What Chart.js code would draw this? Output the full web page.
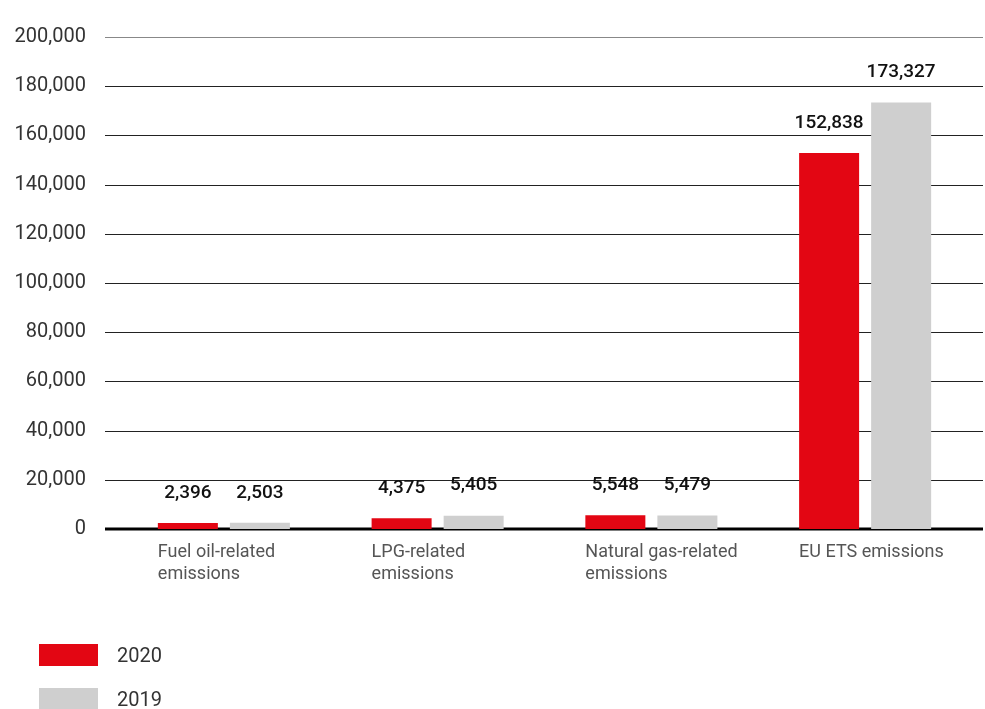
<!DOCTYPE html>
<html>
<head>
<meta charset="utf-8">
<script src="https://cdn.jsdelivr.net/npm/chart.js@4"></script>
<style>
body{margin:0;background:#fff;font-family:Roboto,sans-serif}
#wrap{position:relative;width:985px;height:709px;overflow:hidden}
#legend{position:absolute;left:39px;top:644px}
.item{display:flex;align-items:center;height:22px;margin-bottom:22px;font-size:20px;color:#333}
.box{width:59px;height:22px;margin-right:19px}
</style>
</head>
<body>
<div id="wrap">
<canvas id="c" width="985" height="709"></canvas>
<div id="legend"></div>
</div>
<script>
// data
const categories=[["Fuel oil-related","emissions"],["LPG-related","emissions"],["Natural gas-related","emissions"],["EU ETS emissions"]]
const years=["2020","2019"]
const values2020=[2396,4375,5548,152838]
const values2019=[2503,5405,5479,173327]
const colors=["#e30613","#cfcfcf"]
const yTicks=[0,20000,40000,60000,80000,100000,120000,140000,160000,180000,200000]

// legend
const leg=document.getElementById("legend")
years.forEach((y,i)=>{
let d=document.createElement("div")
d.className="item"
d.innerHTML='<span class="box" style="background:'+colors[i]+'"></span>'+y
leg.appendChild(d)
})

// gridlines run wider than the bar area
const gridPlugin={
id:"grid",
beforeDatasetsDraw(chart){
const c=chart.ctx
const y=chart.scales.y
c.save()
yTicks.forEach(v=>{
const py=Math.round(y.getPixelForValue(v))
c.beginPath()
if(v==0){c.strokeStyle="#000";c.lineWidth=3}
else{c.strokeStyle=v==200000?"#888":"#222";c.lineWidth=1}
c.moveTo(105,py+(v==0?0:0.5))
c.lineTo(983,py+(v==0?0:0.5))
c.stroke()
})
c.restore()
}
}

// labels above bars + category labels left aligned on first bar
const labelsPlugin={
id:"labels",
afterDatasetsDraw(chart){
const c=chart.ctx
c.save()
c.font="500 19px Roboto"
c.fillStyle="#111"
c.textAlign="center"
c.textBaseline="middle"
chart.data.datasets.forEach((ds,di)=>{
chart.getDatasetMeta(di).data.forEach((bar,i)=>{
c.fillText(ds.data[i].toLocaleString("en-US"),bar.x,bar.y-30)
})
})
c.font="18px Roboto"
c.fillStyle="#555"
c.textAlign="left"
c.textBaseline="alphabetic"
const first=chart.getDatasetMeta(0).data
categories.forEach((lines,i)=>{
const x=first[i].x-first[i].width/2
lines.forEach((t,j)=>{
c.fillText(t,x,chart.chartArea.bottom+28+j*22)
})
})
c.restore()
}
}

new Chart(document.getElementById("c"),{
type:"bar",
data:{
labels:categories,
datasets:[
{label:years[0],data:values2020,backgroundColor:colors[0],categoryPercentage:0.674,barPercentage:0.833},
{label:years[1],data:values2019,backgroundColor:colors[1],categoryPercentage:0.674,barPercentage:0.833}
]
},
options:{
responsive:false,
animation:false,
layout:{padding:{top:37,right:13,left:12,bottom:0}},
plugins:{legend:{display:false},tooltip:{enabled:false}},
scales:{
x:{
grid:{display:false},
border:{display:false},
ticks:{display:false},
afterFit(s){s.height=180}
},
y:{
min:0,max:200000,
afterBuildTicks(s){s.ticks=yTicks.map(v=>({value:v}))},
afterFit(s){s.width=105;s.paddingTop=0;s.paddingBottom=0},
border:{display:false},
grid:{display:false,drawTicks:false},
ticks:{
padding:31,
color:"#333",
font:{family:"Roboto",size:20},
callback:v=>v.toLocaleString("en-US")
}
}
}
},
plugins:[gridPlugin,labelsPlugin]
})
</script>
</body>
</html>
